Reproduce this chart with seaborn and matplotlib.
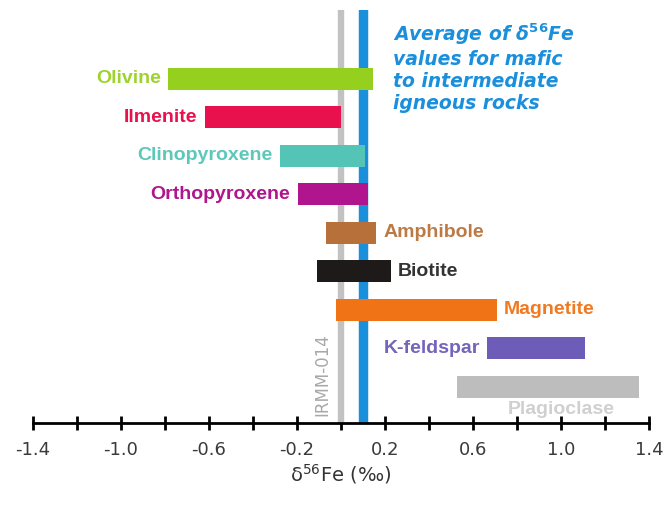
import numpy as np
import pandas as pd
import matplotlib
matplotlib.use("Agg")
import matplotlib.pyplot as plt
import seaborn as sns

minerals = ["Olivine", "Ilmenite", "Clinopyroxene", "Orthopyroxene", "Amphibole",
            "Biotite", "Magnetite", "K-feldspar", "Plagioclase"]
low = [-0.785, -0.62, -0.277, -0.197, -0.07, -0.11, -0.024, 0.665, 0.526]
high = [0.145, 0.0, 0.109, 0.124, 0.159, 0.226, 0.708, 1.109, 1.355]
bar_colors = ["#96d01e", "#e8114e", "#53c4b6", "#b0158d", "#b8703a",
              "#1e1a1a", "#f07316", "#6d5cb8", "#bdbdbd"]
text_colors = ["#9ed32e", "#e8114e", "#5cc8ba", "#b0158d", "#bc7a45",
               "#333333", "#f07a22", "#7464bc", "#d0d0d0"]
label_side = ["left", "left", "left", "left", "right", "right", "right", "left", "below"]
irmm_value = 0.0
igneous_avg = 0.1
tick_values = [-1.4, -1.2, -1.0, -0.8, -0.6, -0.4, -0.2, 0.0, 0.2, 0.4, 0.6, 0.8, 1.0, 1.2, 1.4]
tick_labels = ["-1.4", "", "-1.0", "", "-0.6", "", "-0.2", "", "0.2", "", "0.6", "", "1.0", "", "1.4"]

sns.set_theme(style="white")
plt.rcParams["font.family"] = ["Liberation Sans", "DejaVu Sans"]

df = pd.DataFrame({"mineral": minerals, "low": low, "high": high})
df["span"] = df["high"] - df["low"]

W, H = 670, 508
fig = plt.figure(figsize=(W / 100, H / 100), dpi=100)
ax = fig.add_axes([33 / W, (H - 423) / H, (649 - 33) / W, (423 - 10) / H])

# reference lines
ax.axvline(irmm_value, color="#c2c2c2", lw=4.6, zorder=1)
ax.axvline(igneous_avg, color="#1a8fdc", lw=6.8, zorder=1)

sns.barplot(data=df, x="span", y="mineral", hue="mineral", palette=bar_colors,
            order=minerals, hue_order=minerals, legend=False, orient="h",
            width=0.57, ax=ax, zorder=3, edgecolor="none", linewidth=0, saturation=1)
for patch, lo in zip(ax.patches, df["low"]):
    patch.set_x(lo)

ax.set_xlim(-1.4, 1.4)
ax.set_ylim(8.94, -1.79)

gap = 0.033
for i, (m, lo, hi, c, side) in enumerate(zip(minerals, low, high, text_colors, label_side)):
    if side == "left":
        ax.text(lo - gap, i, m, color=c, ha="right", va="center", fontsize=14,
                fontweight="bold", zorder=4)
    elif side == "right":
        ax.text(hi + gap, i, m, color=c, ha="left", va="center", fontsize=14,
                fontweight="bold", zorder=4)
    else:
        ax.text((lo + hi) / 2 + 0.06, i + 0.6, m, color=c, ha="center", va="center",
                fontsize=14, fontweight="bold", zorder=4)

ax.text(-0.085, 8.75, "IRMM-014", rotation=90, color="#a8a8a8", ha="center", va="bottom",
        fontsize=12, family="DejaVu Sans", zorder=4)

ax.text(0.236, -1.5,
        "Average of δ$^{\\mathbf{56}}$Fe\nvalues for mafic\nto intermediate\nigneous rocks",
        color="#1a8fdc", fontsize=13.5, fontweight="bold", fontstyle="italic",
        family="DejaVu Sans", ha="left", va="top", linespacing=1.2)

ax.set_xticks(tick_values)
ax.set_xticklabels(tick_labels, fontsize=13, color="#3a3a3a", family="DejaVu Sans")
ax.set_yticks([])
ax.set_ylabel("")
ax.set_xlabel("δ$^{56}$Fe (‰)", fontsize=14, color="#333333", labelpad=2,
              family="DejaVu Sans")
for s in ["top", "left", "right"]:
    ax.spines[s].set_visible(False)
ax.spines["bottom"].set_color("black")
ax.spines["bottom"].set_linewidth(2)
ax.tick_params(axis="x", direction="inout", length=10, width=2, color="black",
               pad=8, bottom=True)

fig.savefig("out.png", dpi=100)
